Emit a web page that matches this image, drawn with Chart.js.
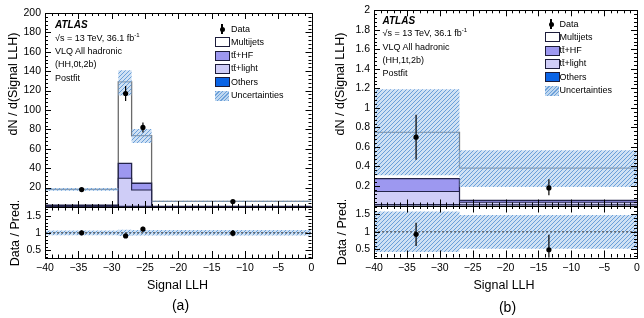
<!DOCTYPE html>
<html>
<head>
<meta charset="utf-8">
<script src="https://cdn.jsdelivr.net/npm/chart.js@4.4.0/dist/chart.umd.min.js"></script>
<style>
body { margin: 0; background: #fff; }
#wrap { position: relative; width: 644px; height: 318px; overflow: hidden; font-family: "Liberation Sans", Arial, sans-serif; color: #000; }
canvas { position: absolute; left: 0; top: 0; }
.t { position: absolute; white-space: nowrap; line-height: 1; }
.lab { font-size: 9px; }
.rot { transform: translate(-50%, -50%) rotate(-90deg); font-size: 12.5px; }
.ctr { transform: translate(-50%, -50%); }
.box { position: absolute; width: 13px; height: 8px; border: 1px solid #1c1c3a; }
sup { font-size: 6px; vertical-align: 4px; line-height: 0; }
</style>
</head>
<body>
<div id="wrap">
  <canvas id="mainA" width="644" height="318"></canvas>
  <canvas id="ratioA" width="644" height="318"></canvas>
  <canvas id="mainB" width="644" height="318"></canvas>
  <canvas id="ratioB" width="644" height="318"></canvas>
</div>
<script>
// ---- panel (a): (HH,0t,2b) ----
const edgesA = [-40, -29, -27, -24, 0];
const othersA = [0.2, 0.3, 0.2, 0.1];
const ttLightA = [1.3, 29.3, 17.3, 0.3];
const ttHFA = [0.5, 15.4, 7.0, 0.2];
const multijetsA = [16.2, 84.0, 49.0, 5.2];
const uncLoA = [16.8, 115, 66, 5.3];
const uncHiA = [19.5, 141, 80.5, 6.4];
const dataXA = [-34.5, -27.9, -25.3, -11.8];
const dataA = [18, 117, 82, 5.6];
const dataErrA = [1.3, 7.7, 5.2, 0.5];
const ratioA = [1.0, 0.91, 1.11, 0.99];
const ratioErrA = [0.07, 0.06, 0.07, 0.09];
const ratioUncLoA = [0.93, 0.91, 0.92, 0.92];
const ratioUncHiA = [1.07, 1.09, 1.08, 1.08];

// ---- panel (b): (HH,1t,2b) ----
const edgesB = [-40, -27, 0];
const othersB = [0.006, 0.003];
const ttLightB = [0.137, 0.03];
const ttHFB = [0.132, 0.02];
const multijetsB = [0.475, 0.33];
const uncLoB = [0.31, 0.19];
const uncHiB = [1.19, 0.565];
const dataXB = [-33.6, -13.4];
const dataB = [0.70, 0.18];
const dataErrLoB = [0.23, 0.075];
const dataErrHiB = [0.23, 0.09];
const ratioB = [0.93, 0.49];
const ratioErrLoB = [0.33, 0.25];
const ratioErrHiB = [0.33, 0.43];
const ratioUncLoB = [0.43, 0.52];
const ratioUncHiB = [1.58, 1.48];

// ---- ticks ----
const xTicks = [-40, -35, -30, -25, -20, -15, -10, -5, 0];
const yTicksA = [20, 40, 60, 80, 100, 120, 140, 160, 180, 200];
const yTicksB = [0.2, 0.4, 0.6, 0.8, 1, 1.2, 1.4, 1.6, 1.8, 2];
const ratioTicks = [0.5, 1, 1.5];

const FONT = '"Liberation Sans", Arial, sans-serif';
const colMulti = '#ffffff', colHF = '#9d98f0', colLight = '#cfcdf7', colOthers = '#0a64e6';
const lineDark = '#23234a';

const range = (a, b, s) => {
    const out = [];
    for (let v = Math.ceil(a / s - 1e-9) * s; v <= b + 1e-9; v += s) out.push(+v.toFixed(4));
    return out;
};
const cum = (...arrs) => arrs[0].map((_, i) => arrs.reduce((s, a) => s + a[i], 0));
// histogram points for stepped lines: value i holds from edge i to edge i+1
const steps = (edges, vals) => edges.map((e, i) => ({ x: e, y: vals[Math.min(i, vals.length - 1)] }));
const pts = (xs, ys) => xs.map((x, i) => ({ x: x, y: ys[i] }));

function hatch() {
    const c = document.createElement('canvas');
    c.width = 4; c.height = 4;
    const g = c.getContext('2d');
    g.fillStyle = 'rgba(168,200,235,0.55)';
    g.fillRect(0, 0, 4, 4);
    g.strokeStyle = 'rgba(100,155,215,0.95)';
    g.lineWidth = 1;
    g.beginPath();
    g.moveTo(-1, 5); g.lineTo(5, -1);
    g.moveTo(-1, 1); g.lineTo(1, -1);
    g.moveTo(3, 5); g.lineTo(5, 3);
    g.stroke();
    return g.createPattern(c, 'repeat');
}
const hatchPat = hatch();

// frame + inward ticks on all four sides
const frameTicks = {
    id: 'frameTicks',
    afterDatasetsDraw(chart, args, o) {
        const { ctx, chartArea: a } = chart;
        const sx = chart.scales.x, sy = chart.scales.y;
        ctx.save();
        ctx.strokeStyle = '#000';
        ctx.lineWidth = 1;
        ctx.beginPath();
        const vx = (v, len) => {
            const p = Math.round(sx.getPixelForValue(v)) + 0.5;
            ctx.moveTo(p, a.bottom); ctx.lineTo(p, a.bottom - len);
            ctx.moveTo(p, a.top); ctx.lineTo(p, a.top + len);
        };
        const vy = (v, len) => {
            const p = Math.round(sy.getPixelForValue(v)) + 0.5;
            ctx.moveTo(a.left, p); ctx.lineTo(a.left + len, p);
            ctx.moveTo(a.right, p); ctx.lineTo(a.right - len, p);
        };
        range(sx.min, sx.max, o.xMinor).forEach(v => vx(v, o.xLen / 2));
        xTicks.forEach(v => vx(v, o.xLen));
        range(sy.min, sy.max, o.yMinor).forEach(v => vy(v, o.yLen / 2));
        o.yMajor.forEach(v => vy(v, o.yLen));
        ctx.stroke();
        ctx.strokeRect(Math.round(a.left) + 0.5, Math.round(a.top) + 0.5,
            Math.round(a.right) - Math.round(a.left), Math.round(a.bottom) - Math.round(a.top));
        ctx.restore();
    }
};

// vertical error bars on datasets carrying errLo / errHi
const errorBars = {
    id: 'errorBars',
    afterDatasetsDraw(chart) {
        const { ctx, chartArea: a } = chart;
        const sx = chart.scales.x, sy = chart.scales.y;
        ctx.save();
        ctx.beginPath();
        ctx.rect(a.left, a.top, a.width, a.height);
        ctx.clip();
        ctx.strokeStyle = '#000';
        ctx.lineWidth = 1.2;
        chart.data.datasets.forEach(ds => {
            if (!ds.errLo) return;
            ds.data.forEach((p, j) => {
                const px = sx.getPixelForValue(p.x);
                ctx.beginPath();
                ctx.moveTo(px, sy.getPixelForValue(p.y - ds.errLo[j]));
                ctx.lineTo(px, sy.getPixelForValue(p.y + ds.errHi[j]));
                ctx.stroke();
            });
        });
        ctx.restore();
    }
};

const tickFont = { family: FONT, size: 10.5 };
const fmt = v => String(+Number(v).toFixed(2));
const fmtX = v => (v < 0 ? '\u2212' + (-v) : String(v));

function stackSets(edges, others, ttLight, ttHF, multi, lo, hi, dx, dy, dlo, dhi) {
    return [
        { data: steps(edges, cum(others, ttLight, ttHF, multi)), stepped: true, fill: 'origin',
          backgroundColor: colMulti, borderColor: '#6a6a6a', borderWidth: 1.3, order: 5 },
        { data: steps(edges, cum(others, ttLight, ttHF)), stepped: true, fill: 'origin',
          backgroundColor: colHF, borderColor: lineDark, borderWidth: 1.3, order: 4 },
        { data: steps(edges, cum(others, ttLight)), stepped: true, fill: 'origin',
          backgroundColor: colLight, borderColor: lineDark, borderWidth: 1.1, order: 3 },
        { data: steps(edges, others), stepped: true, fill: 'origin',
          backgroundColor: colOthers, borderColor: lineDark, borderWidth: 2, order: 2 },
        { data: steps(edges, lo), stepped: true, fill: false, borderWidth: 0, borderColor: 'rgba(0,0,0,0)', order: 1 },
        { data: steps(edges, hi), stepped: true, fill: '-1', backgroundColor: hatchPat,
          borderWidth: 0, borderColor: 'rgba(0,0,0,0)', order: 1 },
        { data: pts(dx, dy), showLine: false, pointRadius: 2.6, pointBackgroundColor: '#000',
          pointBorderWidth: 0, errLo: dlo, errHi: dhi, order: 0 }
    ];
}

function ratioSets(edges, lo, hi, dx, dy, dlo, dhi) {
    return [
        { data: steps(edges, lo), stepped: true, fill: false, borderWidth: 0, borderColor: 'rgba(0,0,0,0)', order: 3 },
        { data: steps(edges, hi), stepped: true, fill: '-1', backgroundColor: hatchPat,
          borderWidth: 0, borderColor: 'rgba(0,0,0,0)', order: 2 },
        { data: [{ x: edges[0], y: 1 }, { x: edges[edges.length - 1], y: 1 }], borderColor: '#333',
          borderWidth: 1, borderDash: [2, 2], fill: false, order: 1 },
        { data: pts(dx, dy), showLine: false, pointRadius: 2.6, pointBackgroundColor: '#000',
          pointBorderWidth: 0, errLo: dlo, errHi: dhi, order: 0 }
    ];
}

function makeChart(id, datasets, box, yMin, yMax, yTicks, yMinor, showX) {
    const W = 40, H = 30;
    return new Chart(document.getElementById(id), {
        type: 'line',
        data: { datasets: datasets },
        options: {
            responsive: false,
            animation: false,
            devicePixelRatio: 1,
            layout: {
                padding: {
                    left: box.l - W, top: box.t, right: 644 - box.r,
                    bottom: 318 - box.b - (showX ? H : 0)
                }
            },
            elements: { point: { radius: 0 }, line: { tension: 0 } },
            plugins: {
                legend: { display: false },
                tooltip: { enabled: false },
                frameTicks: { xMinor: 1, xLen: showX ? 7 : 6, yMajor: yTicks, yMinor: yMinor, yLen: 6 }
            },
            scales: {
                x: {
                    type: 'linear', min: -40, max: 0, display: showX,
                    afterFit: s => { if (showX) s.height = H; },
                    afterBuildTicks: s => { s.ticks = xTicks.map(v => ({ value: v })); },
                    grid: { display: false, drawTicks: false }, border: { display: false },
                    ticks: { font: tickFont, color: '#000', padding: 4, autoSkip: false, maxRotation: 0, callback: fmtX }
                },
                y: {
                    type: 'linear', min: yMin, max: yMax,
                    afterFit: s => { s.width = W; },
                    afterBuildTicks: s => { s.ticks = yTicks.map(v => ({ value: v })); },
                    grid: { display: false, drawTicks: false }, border: { display: false },
                    ticks: { font: tickFont, color: '#000', padding: 4, autoSkip: false, callback: fmt }
                }
            }
        },
        plugins: [frameTicks, errorBars]
    });
}

makeChart('mainA',
    stackSets(edgesA, othersA, ttLightA, ttHFA, multijetsA, uncLoA, uncHiA, dataXA, dataA, dataErrA, dataErrA),
    { l: 45, t: 13, r: 311.5, b: 207 }, 0, 200, yTicksA, 4, false);
makeChart('ratioA',
    ratioSets(edgesA, ratioUncLoA, ratioUncHiA, dataXA, ratioA, ratioErrA, ratioErrA),
    { l: 45, t: 207, r: 311.5, b: 258 }, 0.27, 1.75, ratioTicks, 0.1, true);
makeChart('mainB',
    stackSets(edgesB, othersB, ttLightB, ttHFB, multijetsB, uncLoB, uncHiB, dataXB, dataB, dataErrLoB, dataErrHiB),
    { l: 374, t: 7, r: 637, b: 205.5 }, 0, 2, yTicksB, 0.04, false);
makeChart('ratioB',
    ratioSets(edgesB, ratioUncLoB, ratioUncHiB, dataXB, ratioB, ratioErrLoB, ratioErrHiB),
    { l: 374, t: 205.5, r: 637, b: 257.5 }, 0.27, 1.75, ratioTicks, 0.1, true);

// ---- text, titles, legends ----
const wrap = document.getElementById('wrap');
function txt(html, x, y, cls, style) {
    const d = document.createElement('div');
    d.className = 't ' + (cls || '');
    d.innerHTML = html;
    d.style.left = x + 'px';
    d.style.top = y + 'px';
    if (style) Object.assign(d.style, style);
    wrap.appendChild(d);
    return d;
}

const legendItems = [
    { label: 'Multijets', bg: colMulti },
    { label: 'tt\u0304+HF', bg: colHF },
    { label: 'tt\u0304+light', bg: colLight },
    { label: 'Others', bg: colOthers },
    { label: 'Uncertainties', bg: 'hatch' }
];

function panelText(x0, y0, region, lx, ly, boxL, textL) {
    txt('<b><i>ATLAS</i></b>', x0, y0 - 5, '', { fontSize: '10px' });
    txt('\u221As = 13 TeV, 36.1 fb<sup>-1</sup>', x0, y0 + 8.5, 'lab');
    txt('VLQ All hadronic', x0, y0 + 22, 'lab');
    txt(region, x0, y0 + 35, 'lab');
    txt('Postfit', x0, y0 + 48.5, 'lab');

    // legend: data marker
    const bar = document.createElement('div');
    Object.assign(bar.style, { position: 'absolute', left: (lx - 0.6) + 'px', top: (ly - 5) + 'px',
        width: '1.2px', height: '10px', background: '#000' });
    wrap.appendChild(bar);
    const dot = document.createElement('div');
    Object.assign(dot.style, { position: 'absolute', left: (lx - 2.5) + 'px', top: (ly - 2.5) + 'px',
        width: '5px', height: '5px', borderRadius: '50%', background: '#000' });
    wrap.appendChild(dot);
    txt('Data', textL, ly - 4.5, 'lab');

    legendItems.forEach((it, i) => {
        const cy = ly + 13.3 * (i + 1);
        const b = document.createElement('div');
        b.className = 'box';
        b.style.left = boxL + 'px';
        b.style.top = (cy - 5) + 'px';
        if (it.bg === 'hatch') {
            b.style.border = 'none';
            b.style.width = '14px'; b.style.height = '10px';
            b.style.background = 'repeating-linear-gradient(135deg, rgba(100,155,215,0.95) 0 1px, rgba(190,215,240,1) 1px 2.6px)';
        } else {
            b.style.background = it.bg;
        }
        wrap.appendChild(b);
        txt(it.label, textL, cy - 4.5, 'lab');
    });
}

panelText(55, 25, '(HH,0t,2b)', 222, 29, 215, 231);
panelText(382.5, 20.5, '(HH,1t,2b)', 551, 24, 544.5, 559.5);

txt('dN / d(Signal LLH)', 13, 84, 'rot');
txt('Data / Pred.', 15, 233, 'rot');
txt('dN / d(Signal LLH)', 340, 84, 'rot');
txt('Data / Pred.', 342, 232, 'rot');
txt('Signal LLH', 177.5, 285, 'ctr', { fontSize: '12.5px' });
txt('Signal LLH', 504, 285, 'ctr', { fontSize: '12.5px' });
txt('(a)', 180.5, 305, 'ctr', { fontSize: '14px' });
txt('(b)', 507.5, 307, 'ctr', { fontSize: '14px' });
</script>
</body>
</html>
